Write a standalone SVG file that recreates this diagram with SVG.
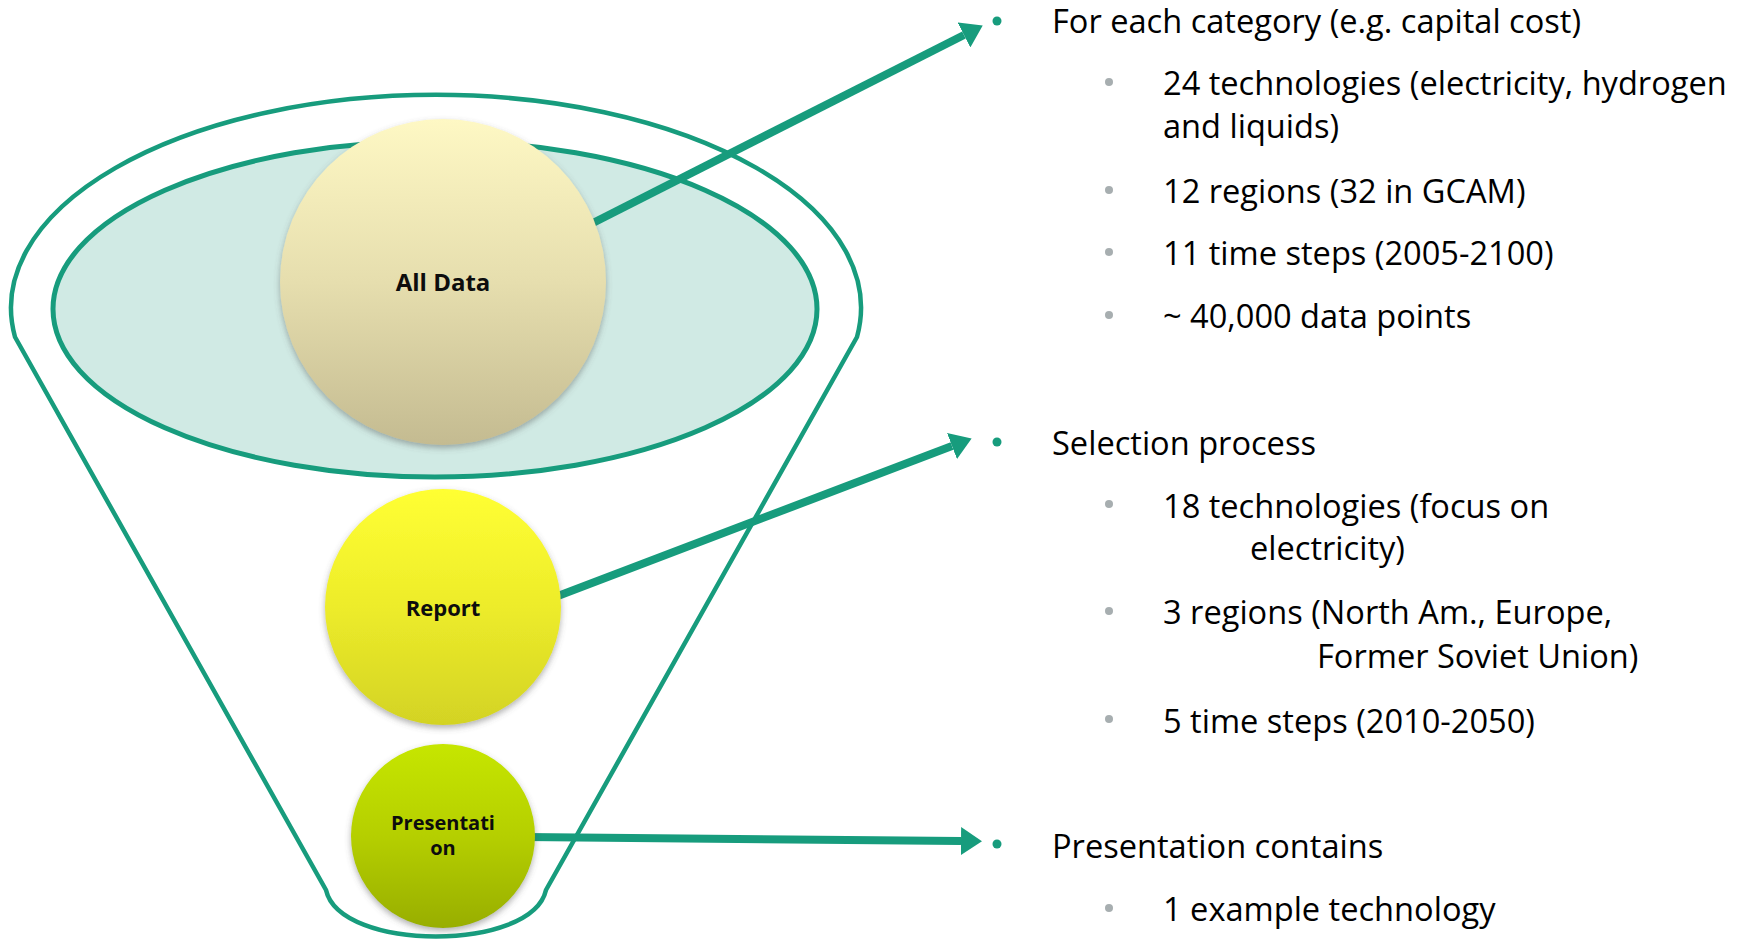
<svg xmlns="http://www.w3.org/2000/svg" width="1754" height="940" viewBox="0 0 1754 940">
  <style>
    .outline { fill: none; stroke: #179C7D; stroke-width: 4.5; }
    .tray { fill: #D0EAE4; stroke: #179C7D; stroke-width: 5; }
    .conn { fill: none; stroke: #179C7D; stroke-width: 8; }
    .label { font-family: "Open Sans", "Liberation Sans", sans-serif; font-weight: bold; fill: #0d0d0d; text-anchor: middle; }
    .main { font-family: "Open Sans", "Liberation Sans", sans-serif; font-size: 32.6px; fill: #000; }
    .sub { font-family: "Open Sans", "Liberation Sans", sans-serif; font-size: 32.6px; fill: #000; }
    .dot1 { fill: #179C7D; }
    .dot2 { fill: #A7AEB0; }
  </style>
  <defs>
    <linearGradient id="gAll" x1="0" y1="0" x2="0" y2="1">
      <stop offset="0" stop-color="#FEF8C4"/>
      <stop offset="0.5" stop-color="#E6DEAE"/>
      <stop offset="1" stop-color="#C4BB91"/>
    </linearGradient>
    <linearGradient id="gRep" x1="0" y1="0" x2="0" y2="1">
      <stop offset="0" stop-color="#FFFF33"/>
      <stop offset="0.5" stop-color="#EDEC2A"/>
      <stop offset="1" stop-color="#D3D324"/>
    </linearGradient>
    <linearGradient id="gPre" x1="0" y1="0" x2="0" y2="1">
      <stop offset="0" stop-color="#C6E600"/>
      <stop offset="0.5" stop-color="#B5CF00"/>
      <stop offset="1" stop-color="#98AE00"/>
    </linearGradient>
    <filter id="shadow" x="-20%" y="-20%" width="140%" height="140%">
      <feDropShadow dx="0" dy="3" stdDeviation="3" flood-color="#555" flood-opacity="0.45"/>
    </filter>
    <marker id="head" markerUnits="userSpaceOnUse" markerWidth="22" markerHeight="28" refX="0" refY="14" orient="auto">
      <path d="M0,0 L21,14 L0,28 Z" fill="#179C7D"/>
    </marker>
  </defs>

  <rect width="1754" height="940" fill="#FFFFFF"/>

  <!-- funnel body -->
  <g id="funnel">
    <path class="outline" d="M15,337 L326,890 C340,952 532,952 546,890 L857,337 A425 213 0 1 0 15 337 Z"/>
    <ellipse class="tray" cx="435" cy="309" rx="382" ry="168"/>
  </g>

  <!-- arrows from each stage to its notes -->
  <g id="connectors">
    <line class="conn" x1="585" y1="227" x2="964" y2="35" marker-end="url(#head)"/>
    <line class="conn" x1="550" y1="599" x2="952" y2="446" marker-end="url(#head)"/>
    <line class="conn" x1="525" y1="837" x2="961" y2="841" marker-end="url(#head)"/>
  </g>

  <g id="node-all-data">
    <circle cx="443" cy="282" r="163" fill="url(#gAll)" filter="url(#shadow)"/>
    <text class="label" x="443" y="291" font-size="24">All Data</text>
  </g>

  <g id="node-report">
    <circle cx="443" cy="607" r="118" fill="url(#gRep)" filter="url(#shadow)"/>
    <text class="label" x="443" y="616" font-size="22">Report</text>
  </g>

  <g id="node-presentation">
    <circle cx="443" cy="836" r="92" fill="url(#gPre)" filter="url(#shadow)"/>
    <text class="label" x="443" y="830" font-size="20">Presentati</text>
    <text class="label" x="443" y="855" font-size="20">on</text>
  </g>

  <!-- notes for the full data set -->
  <g id="notes-all-data">
    <circle class="dot1" cx="997" cy="21" r="4.5"/>
    <text class="main" x="1052" y="33">For each category (e.g. capital cost)</text>
    <circle class="dot2" cx="1109" cy="82" r="4"/>
    <text class="sub" x="1163" y="95">24 technologies (electricity, hydrogen</text>
    <text class="sub" x="1163" y="138">and liquids)</text>
    <circle class="dot2" cx="1109" cy="190" r="4"/>
    <text class="sub" x="1163" y="203">12 regions (32 in GCAM)</text>
    <circle class="dot2" cx="1109" cy="252" r="4"/>
    <text class="sub" x="1163" y="265">11 time steps (2005-2100)</text>
    <circle class="dot2" cx="1109" cy="315" r="4"/>
    <text class="sub" x="1163" y="328">~ 40,000 data points</text>
  </g>

  <!-- notes for the report -->
  <g id="notes-report">
    <circle class="dot1" cx="997" cy="442" r="4.5"/>
    <text class="main" x="1052" y="455">Selection process</text>
    <circle class="dot2" cx="1109" cy="504" r="4"/>
    <text class="sub" x="1163" y="518">18 technologies (focus on</text>
    <text class="sub" x="1250" y="560">electricity)</text>
    <circle class="dot2" cx="1109" cy="611" r="4"/>
    <text class="sub" x="1163" y="624">3 regions (North Am., Europe,</text>
    <text class="sub" x="1317" y="668">Former Soviet Union)</text>
    <circle class="dot2" cx="1109" cy="719" r="4"/>
    <text class="sub" x="1163" y="733">5 time steps (2010-2050)</text>
  </g>

  <!-- notes for the presentation -->
  <g id="notes-presentation">
    <circle class="dot1" cx="997" cy="844" r="4.5"/>
    <text class="main" x="1052" y="858">Presentation contains</text>
    <circle class="dot2" cx="1109" cy="908" r="4"/>
    <text class="sub" x="1163" y="921">1 example technology</text>
  </g>
</svg>
